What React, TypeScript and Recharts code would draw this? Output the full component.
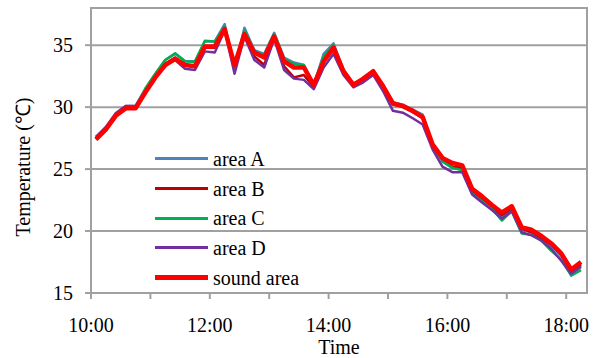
import React from 'react';
import { LineChart, Line, XAxis, YAxis, CartesianGrid, ReferenceArea } from 'recharts';

const times = [
  "10:05", "10:15", "10:25", "10:35", "10:45", "10:55",
  "11:05", "11:15", "11:25", "11:35", "11:45", "11:55",
  "12:05", "12:15", "12:25", "12:35", "12:45", "12:55",
  "13:05", "13:15", "13:25", "13:35", "13:45", "13:55",
  "14:05", "14:15", "14:25", "14:35", "14:45", "14:55",
  "15:05", "15:15", "15:25", "15:35", "15:45", "15:55",
  "16:05", "16:15", "16:25", "16:35", "16:45", "16:55",
  "17:05", "17:15", "17:25", "17:35", "17:45", "17:55",
  "18:05", "18:15",
];

const areaA = [
  27.6, 28.3, 29.5, 30.1, 30.1, 31.5, 32.7, 33.8, 34.3, 33.7,
  33.7, 35.3, 35.3, 36.7, 33.1, 36.4, 34.6, 34.3, 36.0, 34.0,
  33.6, 33.4, 31.8, 34.3, 35.15, 33.0, 31.9, 32.3, 32.9, 31.8,
  30.4, 30.2, 29.8, 29.4, 26.9, 25.7, 25.1, 25.0, 23.1, 22.5,
  21.9, 21.2, 21.8, 20.1, 19.9, 19.4, 18.8, 18.0, 16.7, 17.2,
];
const areaB = [
  27.4, 28.1, 29.3, 29.9, 29.9, 31.3, 32.5, 33.5, 34.0, 33.4,
  33.3, 34.8, 34.8, 36.4, 33.2, 36.0, 34.1, 33.4, 35.8, 33.3,
  32.4, 32.6, 31.6, 33.6, 34.7, 32.8, 31.7, 32.2, 32.9, 31.6,
  30.2, 30.0, 29.6, 29.1, 26.9, 25.7, 25.2, 25.1, 23.2, 22.6,
  22.0, 21.3, 21.8, 20.2, 19.9, 19.4, 18.9, 18.1, 16.8, 17.3,
];
const areaC = [
  27.5, 28.3, 29.4, 30.0, 30.0, 31.5, 32.7, 33.8, 34.35, 33.7,
  33.65, 35.35, 35.3, 36.5, 33.2, 36.2, 34.5, 34.2, 35.9, 33.9,
  33.5, 33.4, 31.8, 34.1, 35.0, 32.9, 31.8, 32.3, 32.9, 31.7,
  30.3, 30.1, 29.7, 29.3, 26.9, 25.6, 25.1, 24.9, 23.0, 22.4,
  21.8, 20.85, 21.6, 19.8, 19.7, 19.2, 18.4, 17.7, 16.4, 16.85,
];
const areaD = [
  27.6, 28.4, 29.5, 30.1, 30.1, 31.3, 32.4, 33.4, 33.8, 33.1,
  33.0, 34.5, 34.4, 36.2, 32.7, 35.7, 33.8, 33.2, 35.5, 33.0,
  32.3, 32.2, 31.45, 33.2, 34.3, 32.6, 31.6, 32.0, 32.6, 31.3,
  29.7, 29.55, 29.1, 28.6, 26.6, 25.2, 24.75, 24.75, 22.95, 22.3,
  21.7, 21.0, 21.6, 19.9, 19.65, 19.25, 18.55, 17.6, 16.55, 17.1,
];
const soundArea = [
  27.4, 28.2, 29.3, 29.9, 29.9, 31.2, 32.4, 33.4, 33.9, 33.4,
  33.3, 34.9, 34.9, 36.3, 33.4, 35.9, 34.4, 34.0, 35.7, 33.7,
  33.2, 33.2, 31.8, 33.7, 34.8, 32.9, 31.8, 32.3, 32.9, 31.7,
  30.3, 30.1, 29.7, 29.2, 27.0, 25.9, 25.5, 25.3, 23.4, 22.8,
  22.1, 21.5, 22.0, 20.3, 20.1, 19.6, 19.0, 18.2, 16.9, 17.5,
];

const xTicks = ["10:00", "11:00", "12:00", "13:00", "14:00", "15:00", "16:00", "17:00", "18:00"];
const xTickLabels = ["10:00", "", "12:00", "", "14:00", "", "16:00", "", "18:00"];
const yTicks = [15, 20, 25, 30, 35];

const seriesNames = ["area A", "area B", "area C", "area D", "sound area"];
const seriesColors = ["#4F81BD", "#C00000", "#00B050", "#7030A0", "#FF0000"];
const seriesWidths = [2.5, 2.5, 2.5, 2.5, 4.5];
const seriesValues = [areaA, areaB, areaC, areaD, soundArea];

const toMin = (t: string) => {
  const [h, m] = t.split(':').map(Number);
  return (h - 10) * 60 + m;
};

const data = times.map((t, i) => {
  const row: Record<string, number> = { t: toMin(t) };
  seriesNames.forEach((n, k) => {
    row[n] = seriesValues[k][i];
  });
  return row;
});

const xTickValues = xTicks.map(toMin);
const FONT = "'Liberation Serif', 'Times New Roman', Times, serif";
const FS = 20;

const XTick = (props: any) => {
  const { x, y, payload } = props;
  const label = xTickLabels[xTickValues.indexOf(payload.value)] ?? '';
  return (
    <text x={x} y={y + 16} textAnchor="middle" fontFamily={FONT} fontSize={FS} fill="#000">
      {label}
    </text>
  );
};

const YTick = (props: any) => {
  const { x, y, payload } = props;
  return (
    <text x={x} y={y + 7} textAnchor="end" fontFamily={FONT} fontSize={FS} fill="#000">
      {payload.value}
    </text>
  );
};

const LegendBox = () => (
  <div style={{ position: 'absolute', left: 155, top: 144, fontFamily: FONT, fontSize: FS, color: '#000' }}>
    {seriesNames.map((n, k) => (
      <div key={n} style={{ display: 'flex', alignItems: 'center', height: 29.7 }}>
        <div style={{ width: 53, height: seriesWidths[k] + 0.5, background: seriesColors[k], marginRight: 5 }} />
        <span style={{ lineHeight: '20px', fontFamily: FONT }}>{n}</span>
      </div>
    ))}
  </div>
);

export default function App() {
  return (
    <div style={{ position: 'absolute', left: 0, top: 0, width: 614, height: 358, background: '#fff', fontFamily: FONT }}>
      <LineChart
        width={614}
        height={358}
        data={data}
        margin={{ top: 8, right: 27, left: 0, bottom: 0 }}
      >
        <CartesianGrid vertical={false} stroke="#A0A0A0" strokeWidth={2} />
        <ReferenceArea x1={0} x2={501} y1={15} y2={38} fill="none" stroke="#A0A0A0" strokeWidth={2} ifOverflow="visible" />
        <XAxis
          dataKey="t"
          type="number"
          domain={[0, 501]}
          ticks={xTickValues}
          interval={0}
          height={65}
          tickSize={6}
          tickMargin={17}
          stroke="#A0A0A0"
          strokeWidth={2}
          tick={<XTick />}
          label={{
            content: () => (
              <text x={339} y={354} textAnchor="middle" fontSize={FS} fontFamily={FONT} fill="#000">Time</text>
            ),
          }}
        />
        <YAxis
          type="number"
          domain={[15, 38]}
          ticks={yTicks}
          interval={0}
          width={91}
          tickSize={6}
          tickMargin={12}
          stroke="#A0A0A0"
          strokeWidth={2}
          tick={<YTick />}
          label={{
            content: () => (
              <text x={30} y={167} transform="rotate(-90 30 167)" textAnchor="middle" fontSize={FS} fontFamily={FONT} fill="#000">Temperature (℃)</text>
            ),
          }}
        />
        {seriesNames.map((n, k) => (
          <Line
            key={n}
            type="linear"
            dataKey={n}
            stroke={seriesColors[k]}
            strokeWidth={seriesWidths[k]}
            dot={false}
            activeDot={false}
            isAnimationActive={false}
            strokeLinejoin="round"
          />
        ))}
      </LineChart>
      <LegendBox />
    </div>
  );
}
